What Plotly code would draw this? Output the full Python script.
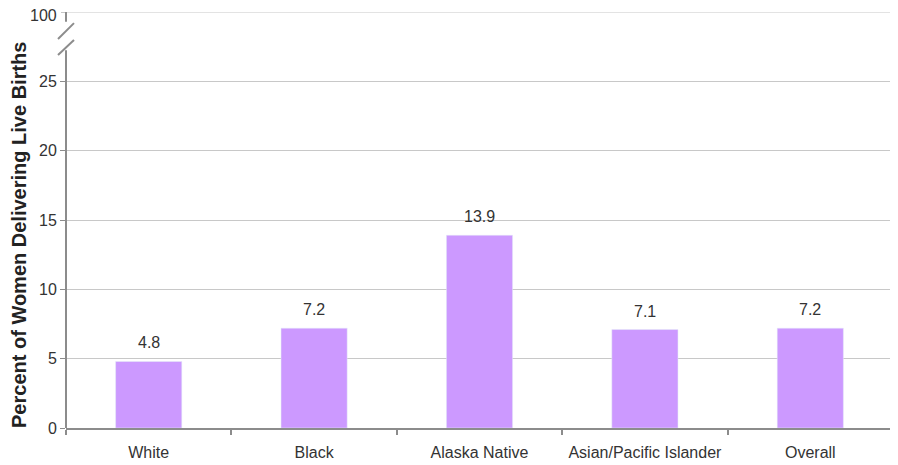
import plotly.graph_objects as go

categories = ["White", "Black", "Alaska Native", "Asian/Pacific Islander", "Overall"]
values = [4.8, 7.2, 13.9, 7.1, 7.2]
labels = ["4.8", "7.2", "13.9", "7.1", "7.2"]
tick_vals = [0, 5, 10, 15, 20, 25]
tick_text = ["0", "5", "10", "15", "20", "25"]
top_val = 30
top_text = "100"
y_title = "Percent of Women Delivering Live Births"

FONT = "Liberation Sans"
AX = "#8c8c8c"
TXT = "#333333"
GRID = "#c8c8c8"

fig = go.Figure()
fig.add_trace(go.Bar(x=categories, y=values, marker_color="#cc99ff", width=0.4,
                     hoverinfo="skip"))

for c, v, t in zip(categories, values, labels):
    fig.add_annotation(x=c, y=v, text=t, showarrow=False, yanchor="bottom", yshift=8,
                       font=dict(family=FONT, size=16, color=TXT))

fig.add_annotation(xref="paper", yref="y", x=0, y=top_val, text=top_text, showarrow=False,
                   xanchor="right", yanchor="middle", xshift=-7, yshift=-3,
                   font=dict(family=FONT, size=16, color=TXT))

px = 827.0
fig.add_annotation(xref="paper", yref="paper", x=-47/px, y=0.464, text="<b>" + y_title + "</b>",
                   showarrow=False, textangle=-90, xanchor="center", yanchor="middle",
                   font=dict(family=FONT, size=20, color="#222222"))

shapes = []
shapes.append(dict(type="line", xref="paper", yref="y", x0=0, x1=1, y0=top_val, y1=top_val,
                   line=dict(color=GRID, width=1), layer="below"))
shapes.append(dict(type="line", xref="paper", yref="y", x0=-5/px, x1=0, y0=top_val, y1=top_val,
                   line=dict(color=AX, width=1)))
shapes.append(dict(type="line", xref="paper", yref="y", x0=0, x1=0, y0=0, y1=27.25,
                   line=dict(color=AX, width=2)))
shapes.append(dict(type="line", xref="paper", yref="y", x0=0, x1=0, y0=29.3, y1=30,
                   line=dict(color=AX, width=2)))
shapes.append(dict(type="line", xref="paper", yref="y", x0=-8/px, x1=8/px, y0=28.05, y1=29.2,
                   line=dict(color=AX, width=2)))
shapes.append(dict(type="line", xref="paper", yref="y", x0=-8/px, x1=8/px, y0=26.9, y1=27.98,
                   line=dict(color=AX, width=2)))
fig.update_layout(shapes=shapes)

fig.update_layout(
    width=898, height=465,
    margin=dict(l=58, r=13, t=4, b=45),
    plot_bgcolor="white", paper_bgcolor="white",
    showlegend=False,
    font=dict(family=FONT, size=16, color=TXT),
    xaxis=dict(type="category", showline=True, linecolor=AX, linewidth=2,
               ticks="outside", tickson="boundaries", ticklen=5, tickcolor=AX, tickwidth=2,
               showgrid=False, tickfont=dict(family=FONT, size=16, color=TXT),
               ticklabelstandoff=9, automargin=False, fixedrange=True),
    yaxis=dict(range=[0, 30], tickvals=tick_vals, ticktext=tick_text, showline=False,
               ticks="outside", ticklen=5, tickcolor=AX, tickwidth=1,
               showgrid=True, gridcolor=GRID, gridwidth=1, zeroline=False,
               tickfont=dict(family=FONT, size=16, color=TXT),
               automargin=False, fixedrange=True),
)

fig.write_html("out.html")
